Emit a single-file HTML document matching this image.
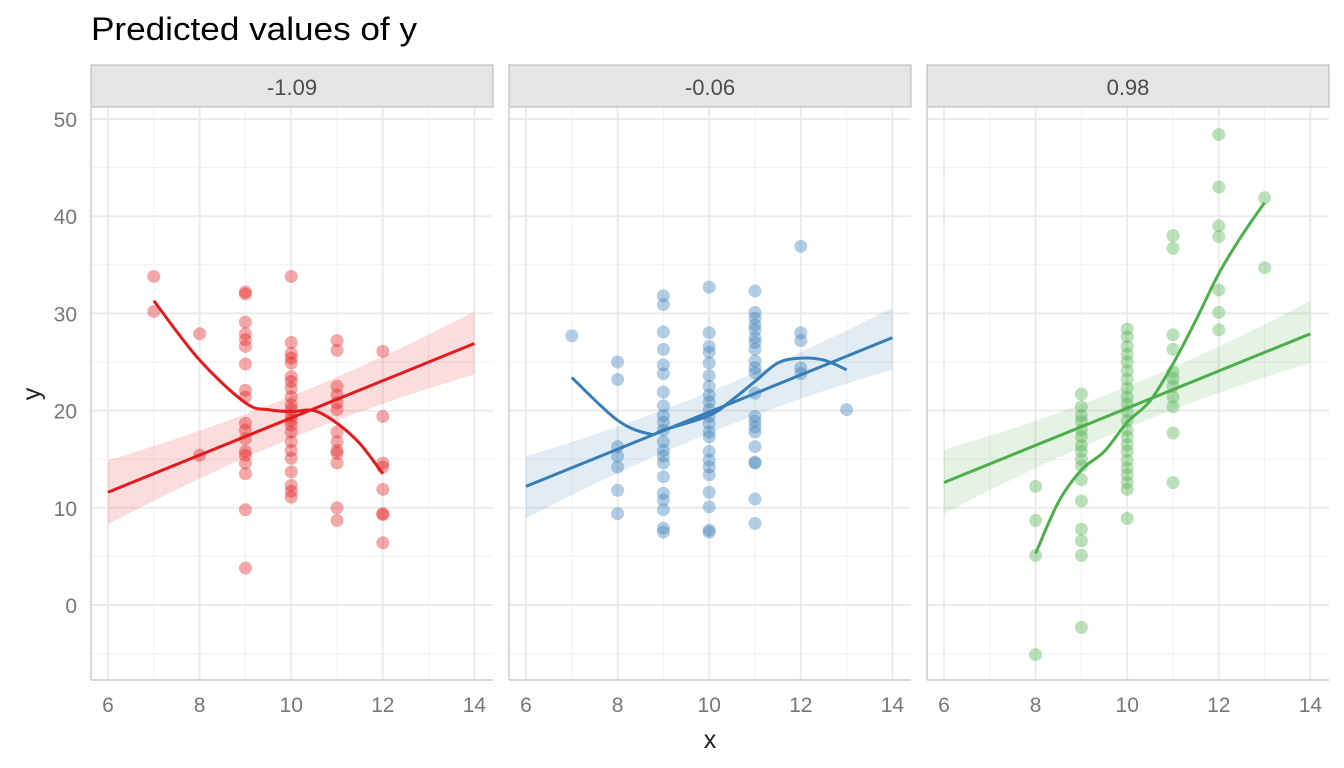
<!DOCTYPE html>
<html><head><meta charset="utf-8"><style>
body{margin:0;background:#fff;}
svg{display:block;font-family:"Liberation Sans",sans-serif;}
</style></head><body>
<svg id="chart" width="1344" height="768"></svg>
<script>
const tickX=[6,8,10,12,14];
const tickY=[0,10,20,30,40,50];
const panelLabels=["-1.09","-0.06","0.98"];
const colors=["#e41a1c","#377eb8","#4daf4a"];
// Panel 1 points
const p1x=[7,7,8,8,9,9,9,9,9,9,9,9,9,9,9,9,9,9,9,9,9,9,10,10,10,10,10,10,10,10,10,10,10,10,10,10,10,10,10,10,10,10,10,10,11,11,11,11,11,11,11,11,11,11,11,11,11,12,12,12,12,12,12,12,12];
const p1y=[33.8,30.2,27.9,15.4,32.2,32.0,29.1,27.9,27.3,26.6,24.8,22.1,21.4,18.7,18.0,17.1,15.8,15.4,14.6,13.5,9.8,3.8,33.8,27.0,25.9,25.4,24.9,23.5,23.0,22.3,21.4,20.6,20.1,19.5,19.0,18.5,17.8,16.8,15.9,15.1,13.7,12.3,11.7,11.1,27.2,26.2,22.5,21.6,20.8,20.1,17.8,16.8,15.9,15.6,14.6,10.0,8.7,26.1,19.4,14.6,14.2,11.9,9.4,9.3,6.4];
// Panel 2 points
const p2x=[7,8,8,8,8,8,8,8,9,9,9,9,9,9,9,9,9,9,9,9,9,9,9,9,9,9,9,9,9,10,10,10,10,10,10,10,10,10,10,10,10,10,10,10,10,10,10,10,10,10,10,11,11,11,11,11,11,11,11,11,11,11,11,11,11,11,11,11,11,11,11,11,12,12,12,12,12,13];
const p2y=[27.7,25.0,23.2,16.3,15.3,14.2,11.8,9.4,31.8,30.9,28.1,26.3,24.7,23.8,21.9,20.5,19.5,18.8,18.0,16.8,15.9,15.3,14.6,13.2,11.5,10.8,9.8,7.9,7.5,32.7,28.0,26.6,26.0,24.9,23.6,22.5,21.6,20.9,20.1,19.4,18.7,17.8,17.3,15.8,14.9,14.2,13.4,11.6,10.1,7.7,7.5,32.3,30.1,29.5,28.8,28.3,27.5,27.0,26.3,25.1,24.4,23.9,21.8,19.4,18.9,18.3,17.8,16.3,14.7,14.6,10.9,8.4,36.9,28.0,27.2,24.4,23.8,20.1];
// Panel 3 points
const p3x=[8,8,8,8,9,9,9,9,9,9,9,9,9,9,9,9,9,9,9,9,10,10,10,10,10,10,10,10,10,10,10,10,10,10,10,10,10,10,10,10,10,10,11,11,11,11,11,11,11,11,11,11,11,12,12,12,12,12,12,12,13,13];
const p3y=[12.2,8.7,5.1,-5.1,21.7,20.4,19.5,18.9,18.0,17.3,16.4,15.8,15.0,14.3,12.9,10.7,7.8,6.6,5.1,-2.3,28.4,27.6,26.6,25.8,25.0,24.1,23.2,22.3,21.4,20.7,19.9,19.0,18.0,17.3,16.5,15.8,14.9,14.1,13.4,12.6,11.9,8.9,38.0,36.7,27.8,26.3,24.0,23.3,22.5,21.4,20.4,17.7,12.6,48.4,43.0,39.0,37.9,32.4,30.1,28.3,41.9,34.7];
// Smooth curves
const s1x=[7,8,9,9.5,10,10.5,11,11.5,12];
const s1y=[31.3,25.2,20.8,20.1,19.9,20.0,18.7,16.6,13.5];
const s2x=[7,8,8.7,9,10,10.5,11,11.5,12,12.5,13];
const s2y=[23.4,19.0,17.6,18.0,19.5,21.1,23.0,24.9,25.4,25.2,24.2];
const s3x=[8,8.5,9,9.5,10,10.5,11,11.5,12,12.5,13];
const s3y=[5.3,10.6,13.9,15.8,18.8,21.0,24.8,29.3,34.1,38.0,41.4];
// Linear fits + CI
const ciX=[6,10,14];
const fit1=[11.6,19.3,26.9], lo1=[8.3,18.3,23.7], hi1=[14.9,20.4,30.2];
const fit2=[12.2,19.8,27.5], lo2=[8.9,18.8,24.2], hi2=[15.3,20.9,30.6];
const fit3=[12.6,20.3,27.9], lo3=[9.4,19.3,24.9], hi3=[16.0,21.3,31.3];

const NS="http://www.w3.org/2000/svg";
const svg=document.getElementById('chart');
function mk(t,a,p){const e=document.createElementNS(NS,t);for(const k in a)e.setAttribute(k,a[k]);(p||svg).appendChild(e);return e;}
const panelsX=[91,509,927], pw=402, plotTop=108, plotBottom=680;
function sx(i,v){return panelsX[i]+17+(v-6)*45.8;}
function sy(v){return 605-v*9.72;}

const title=mk('text',{x:91,y:40,'font-size':32,fill:'#000',textLength:326,lengthAdjust:'spacingAndGlyphs'});


title.textContent='Predicted values of y';
const xl=mk('text',{x:710,y:748,'font-size':25,fill:'#222','text-anchor':'middle'});


xl.textContent='x';
const yl=mk('text',{x:40,y:394,'font-size':25,fill:'#222','text-anchor':'middle',transform:'rotate(-90 40 394)'});


yl.textContent='y';

tickY.forEach(v=>{
  const t=mk('text',{x:77,y:sy(v)+8,'font-size':21,fill:'#777','text-anchor':'end'});
  
  
  t.textContent=v;
});

const pts=[[p1x,p1y],[p2x,p2y],[p3x,p3y]];
const sm=[[s1x,s1y],[s2x,s2y],[s3x,s3y]];
const fits=[[fit1,lo1,hi1],[fit2,lo2,hi2],[fit3,lo3,hi3]];

function smoothPath(i,xs,ys){
  const P=xs.map((x,k)=>[sx(i,x),sy(ys[k])]);
  let d='M'+P[0][0]+','+P[0][1];
  for(let k=0;k<P.length-1;k++){
    const p0=P[k-1]||P[k],p1=P[k],p2=P[k+1],p3=P[k+2]||P[k+1];
    const c1=[p1[0]+(p2[0]-p0[0])/6,p1[1]+(p2[1]-p0[1])/6];
    const c2=[p2[0]-(p3[0]-p1[0])/6,p2[1]-(p3[1]-p1[1])/6];
    d+=' C'+c1+' '+c2+' '+p2;
  }
  return d;
}
function smoothBand(i,xs,lo,hi){
  const P=xs.map((x,k)=>[sx(i,x),sy(hi[k])]);
  const Q=xs.map((x,k)=>[sx(i,x),sy(lo[k])]).reverse();
  return 'M'+P[0]+' Q'+P[1]+' '+P[2]+' L'+Q[0]+' Q'+Q[1]+' '+Q[2]+' Z';
}

for(let i=0;i<3;i++){
  const g=mk('g',{});
  
  
  const x0=panelsX[i];
  const st=mk('rect',{x:x0,y:65,width:pw,height:42,fill:'#e5e5e5',stroke:'#b3b3b3','stroke-width':1},g);
  
  
  const stt=mk('text',{x:x0+pw/2,y:95,'font-size':22,fill:'#4d4d4d','text-anchor':'middle'},g);
  
  
  stt.textContent=panelLabels[i];
  for(let v=-5;v<=50;v+=10){mk('line',{x1:x0,x2:x0+pw,y1:sy(v),y2:sy(v),stroke:'#f0f0f0','stroke-width':1},g);}
  for(let v=7;v<=13;v+=2){mk('line',{x1:sx(i,v),x2:sx(i,v),y1:plotTop,y2:plotBottom,stroke:'#f0f0f0','stroke-width':1},g);}
  tickY.forEach(v=>mk('line',{x1:x0,x2:x0+pw,y1:sy(v),y2:sy(v),stroke:'#ebebeb','stroke-width':2},g));
  tickX.forEach(v=>{
    mk('line',{x1:sx(i,v),x2:sx(i,v),y1:plotTop,y2:plotBottom,stroke:'#ebebeb','stroke-width':2},g);
    const t=mk('text',{x:sx(i,v),y:712,'font-size':21,fill:'#777','text-anchor':'middle'},g);
    
    
    t.textContent=v;
  });
  mk('line',{x1:x0,x2:x0,y1:plotTop,y2:plotBottom,stroke:'#ccc','stroke-width':1.5},g);
  mk('line',{x1:x0,x2:x0+pw,y1:plotBottom,y2:plotBottom,stroke:'#ccc','stroke-width':1.5},g);
  const [xs,ys]=pts[i];
  xs.forEach((x,k)=>{
    const c=mk('circle',{cx:sx(i,x),cy:sy(ys[k]),r:6.5,fill:colors[i],'fill-opacity':0.38},g);
    
    
  });
  const [f,lo,hi]=fits[i];
  const band=mk('path',{d:smoothBand(i,ciX,lo,hi),fill:colors[i],'fill-opacity':0.15},g);
  
  
  const ln=mk('line',{x1:sx(i,ciX[0]),y1:sy(f[0]),x2:sx(i,ciX[2]),y2:sy(f[2]),stroke:colors[i],'stroke-width':3},g);
  
  
  const s=mk('path',{d:smoothPath(i,sm[i][0],sm[i][1]),fill:'none',stroke:colors[i],'stroke-width':3},g);
  
  
}
</script>
</body></html>
